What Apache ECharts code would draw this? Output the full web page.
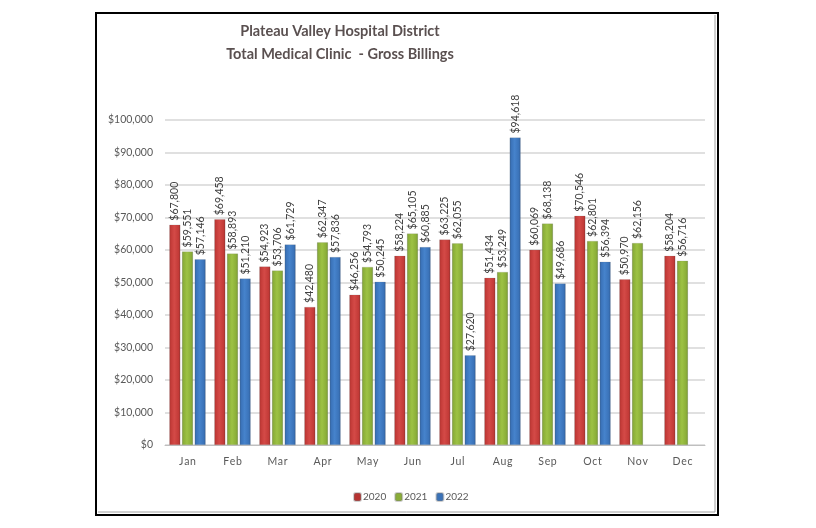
<!DOCTYPE html>
<html><head><meta charset="utf-8">
<script src="https://cdn.jsdelivr.net/npm/echarts@6/dist/echarts.min.js"></script>
<style>html,body{margin:0;padding:0;background:#fff}#c{width:816px;height:528px}</style>
</head><body><div id="c"></div>
<script>
const months = ['Jan','Feb','Mar','Apr','May','Jun','Jul','Aug','Sep','Oct','Nov','Dec'];
const years = ['2020','2021','2022'];
const v2020 = [67800, 69458, 54923, 42480, 46256, 58224, 63225, 51434, 60069, 70546, 50970, 58204];
const v2021 = [59551, 58893, 53706, 62347, 54793, 65105, 62055, 53249, 68138, 62801, 62156, 56716];
const v2022 = [57146, 51210, 61729, 57836, 50245, 60885, 27620, 94618, 49686, 56394, null, null];
const yTicks = {min: 0, max: 100000, interval: 10000};

const FONT = 'Lato';
const fmt = v => '$' + Number(v).toLocaleString('en-US');
function grad(light, mid, dark) {
  return new echarts.graphic.LinearGradient(0, 0, 1, 0, [
    {offset: 0, color: dark}, {offset: 0.12, color: mid}, {offset: 0.45, color: light},
    {offset: 0.85, color: mid}, {offset: 1, color: dark}
  ]);
}
const styles = [
  {c: grad('#d44a47', '#c23a37', '#962a28'), legend: '#b73331'},
  {c: grad('#9dc244', '#8aad38', '#6a8a2a'), legend: '#8aad38'},
  {c: grad('#4683cc', '#3a72b8', '#2b5891'), legend: '#3a72b8'}
];
const datas = [v2020, v2021, v2022];
const chart = echarts.init(document.getElementById('c'));
chart.setOption({
  animation: false,
  title: {
    text: 'Plateau Valley Hospital District\nTotal Medical Clinic  - Gross Billings',
    left: 335, textAlign: 'center', top: 15,
    textStyle: {fontFamily: FONT, fontSize: 14.5, fontWeight: 'bold', color: '#5a5050', lineHeight: 23}
  },
  legend: {
    bottom: 21, left: 348, itemWidth: 7, itemHeight: 8, itemGap: 8,
    textStyle: {fontFamily: FONT, fontSize: 10, color: '#595959', padding: [0,0,0,-3]},
    data: years.map((y, i) => ({name: y, itemStyle: {color: styles[i].legend}}))
  },
  grid: {left: 165, right: 111, top: 120, bottom: 83},
  xAxis: {
    type: 'category', data: months,
    axisTick: {show: false},
    axisLine: {lineStyle: {color: '#bfbfbf', width: 1}},
    axisLabel: {margin: 11, fontFamily: FONT, fontSize: 10.5, color: '#595959',
      formatter: s => s.split('').join('\u200a')}
  },
  yAxis: {
    type: 'value', min: yTicks.min, max: yTicks.max, interval: yTicks.interval,
    axisLabel: {formatter: fmt, fontFamily: FONT, fontSize: 10.5, color: '#595959', margin: 12},
    splitLine: {lineStyle: {color: '#e0e0e0', width: 2}},
    axisLine: {show: false}, axisTick: {show: false}
  },
  series: datas.map((d, i) => ({
    name: years[i], type: 'bar', data: d,
    barWidth: 11, barGap: '15%',
    itemStyle: {color: styles[i].c, borderColor: 'rgba(120,120,120,0.35)', borderWidth: 0.5},
    label: {
      show: true, position: 'top', rotate: 90, align: 'left', verticalAlign: 'middle', distance: 4,
      formatter: p => fmt(p.value), fontFamily: FONT, fontSize: 10.5, color: '#404040'
    }
  })),
  graphic: [
    {type: 'rect', shape: {x: 96, y: 13, width: 622, height: 502}, style: {fill: 'none', stroke: '#000', lineWidth: 2}, z: 100},
    {type: 'line', shape: {x1: 715, y1: 15, x2: 715, y2: 512}, style: {stroke: '#a0a0a0', lineWidth: 1}, z: 100},
    {type: 'line', shape: {x1: 98, y1: 512, x2: 715, y2: 512}, style: {stroke: '#a0a0a0', lineWidth: 1}, z: 100}
  ]
});
</script></body></html>
